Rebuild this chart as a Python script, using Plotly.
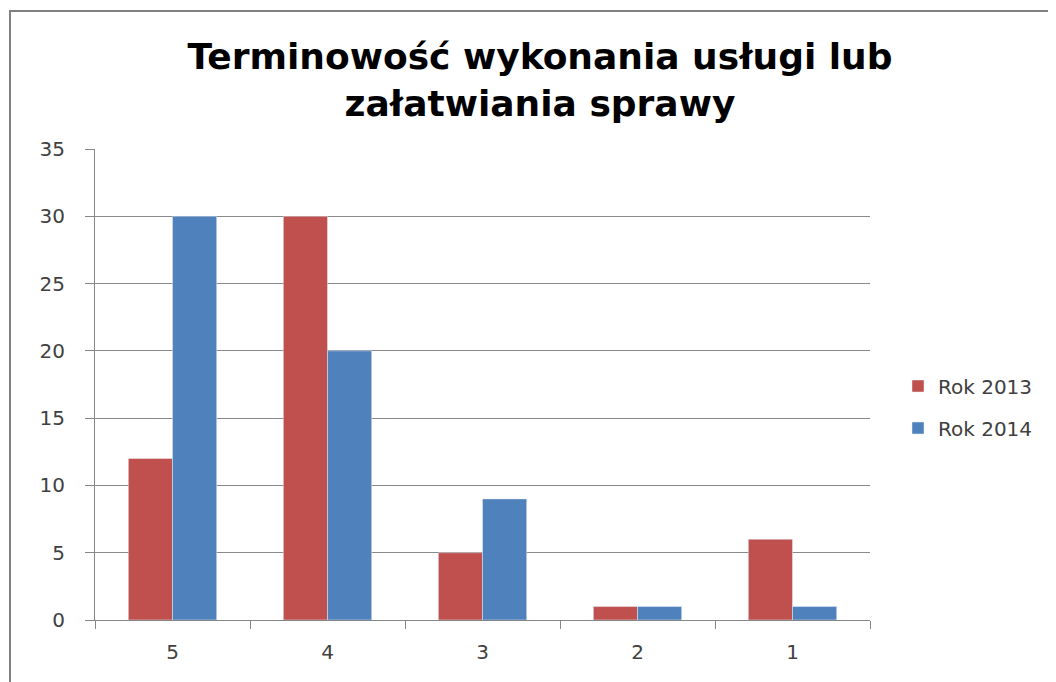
import plotly.graph_objects as go

categories = ["5", "4", "3", "2", "1"]
rok_2013 = [12, 30, 5, 1, 6]
rok_2014 = [30, 20, 9, 1, 1]
y_ticks = [0, 5, 10, 15, 20, 25, 30, 35]

W, H = 1056, 682
OFF = 8  # page body margin offset in the screenshot
L, R, T, B = 95 - OFF, W - (870 - OFF), 149 - OFF, H - (620 - OFF)
pw, ph = W - L - R, H - T - B

def px(x):
    return (x - OFF - L) / pw

def py(y):
    return (H - B - (y - OFF)) / ph

font_family = "'DejaVu Sans', 'Open Sans', sans-serif"
title_family = "'DejaVu Sans', sans-serif"

fig = go.Figure()
fig.add_trace(go.Bar(x=categories, y=rok_2013, name="Rok 2013",
                     marker_color="#C0504D", legendgroup="a"))
fig.add_trace(go.Bar(x=categories, y=rok_2014, name="Rok 2014",
                     marker_color="#4F81BD", legendgroup="b"))

fig.update_layout(
    width=W, height=H,
    margin=dict(l=L, r=R, t=T, b=B, autoexpand=False),
    paper_bgcolor="white", plot_bgcolor="white",
    barmode="group", bargap=0.43, bargroupgap=0,
    font=dict(family=font_family, size=20, color="#404040"),
    title=dict(
        text="<b>Terminowość wykonania usługi lub<br>załatwiania sprawy</b>",
        x=(540 - OFF) / W, xanchor="center", xref="container",
        y=1 - (69 - OFF) / H, yanchor="middle", yref="container",
        font=dict(family=title_family, size=36, color="black"),
    ),
    legend=dict(
        x=px(898), y=py(407), xanchor="left", yanchor="middle",
        font=dict(family=font_family, size=20, color="#404040"),
        traceorder="grouped", tracegroupgap=13,
    ),
    xaxis=dict(
        showline=True, linecolor="#868686", linewidth=1,
        ticks="outside", ticklen=8, tickcolor="#868686",
        tickson="boundaries", showgrid=False,
        ticklabelstandoff=14,
        tickfont=dict(family=font_family, size=20, color="#404040"),
    ),
    yaxis=dict(
        range=[0, 35], tickvals=y_ticks,
        showline=True, linecolor="#868686", linewidth=1,
        ticks="outside", ticklen=9, tickcolor="#868686",
        showgrid=True, gridcolor="#8a8a8a", gridwidth=1,
        zeroline=False,
        ticklabelstandoff=16,
        tickfont=dict(family=font_family, size=20, color="#404040"),
    ),
    shapes=[
        dict(type="rect", xref="paper", yref="paper",
             x0=px(10), x1=px(1090), y0=py(11), y1=py(720),
             line=dict(color="#808080", width=2), fillcolor="rgba(0,0,0,0)",
             layer="above"),
    ],
)

fig.write_html("out.html")
